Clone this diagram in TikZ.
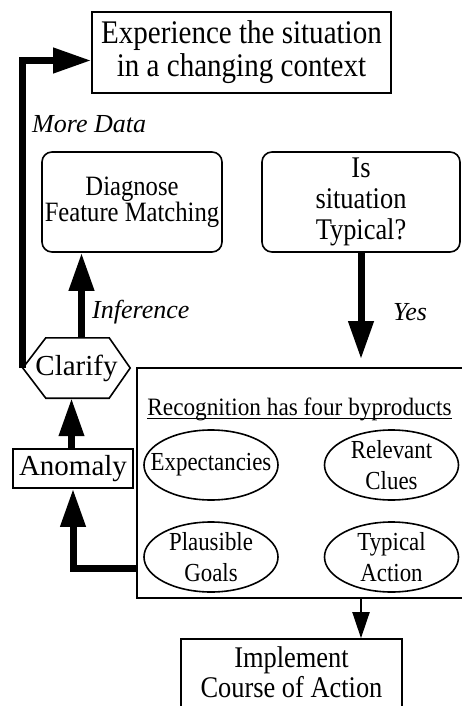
\documentclass[tikz,border=0pt]{standalone}
\usepackage{fontspec}
\setmainfont{Liberation Serif}
\newfontfamily\cnd[FakeStretch=0.88]{Liberation Serif}
\newfontfamily\cndb[FakeStretch=0.93]{Liberation Serif}
\usetikzlibrary{arrows.meta,calc,shapes.geometric}
\begin{document}
\begin{tikzpicture}[x=1pt,y=-1pt,
  box/.style={draw,line width=1.6pt,inner sep=0pt,align=center},
  rbox/.style={box,rounded corners=10pt},
  oval/.style={draw,line width=1.6pt,ellipse,minimum width=134pt,minimum height=70pt,inner sep=0pt},
  otext/.style={inner sep=0pt,align=center,font=\cnd\fontsize{26}{31}\selectfont},
  big/.style={line width=7pt,-{Triangle[length=38pt,width=24pt]}},
  small/.style={line width=2pt,-{Triangle[length=26pt,width=17pt]}},
  lbl/.style={font=\fontsize{26}{26}\selectfont\itshape,inner sep=0pt,anchor=base west},
]
\useasboundingbox (0,0) rectangle (461,706);

% boxes
\node[box,minimum width=299pt,minimum height=81pt,font=\cnd\fontsize{33}{33}\selectfont] (exp) at (241.5,52.5) {Experience the situation\\in a changing context};
\node[rbox,minimum width=180pt,minimum height=100pt,font=\cnd\fontsize{28}{25}\selectfont] (diag) at (132,202) {Diagnose\\Feature Matching};
\node[rbox,minimum width=198pt,minimum height=100pt,font=\cnd\fontsize{30}{31}\selectfont] (typ) at (361,202) {Is\\situation\\Typical?};

\node[draw,line width=1.6pt,minimum width=335pt,minimum height=230pt,inner sep=0pt] (recog) at (304.5,483) {};
\node[font=\cndb\fontsize{25}{25}\selectfont,inner sep=0pt,anchor=base] (rtitle) at (299.5,415) {Recognition has four byproducts};
\draw[line width=1.4pt] ([yshift=-3.5pt]rtitle.base west) -- ([yshift=-3.5pt]rtitle.base east);

\node[oval] (o1) at (211,465) {};
\node[otext] (o1t) at (o1) {Expectancies};
\node[oval] (o2) at (391.5,465) {};
\node[otext] (o2t) at (o2) {Relevant\\Clues};
\node[oval] (o3) at (211,557) {};
\node[otext] (o3t) at (o3) {Plausible\\Goals};
\node[oval] (o4) at (391.5,557) {};
\node[otext] (o4t) at (o4) {Typical\\Action};

% clarify hexagon
\node[font=\fontsize{29}{29}\selectfont,minimum width=107pt,minimum height=60pt,inner sep=0pt] (clar) at (76.5,368) {Clarify};
\draw[line width=1.6pt] (clar.west) -- ([xshift=23pt]clar.north west) -- ([xshift=-21pt]clar.north east) -- (clar.east) -- ([xshift=-21pt]clar.south east) -- ([xshift=23pt]clar.south west) -- cycle;

\node[box,minimum width=120pt,minimum height=39pt,font=\fontsize{29}{29}\selectfont] (anom) at (73,468.5) {Anomaly};

\node[box,minimum width=221pt,minimum height=78pt] (impl) at (291.5,678) {};
\node[inner sep=0pt,align=center,font=\cnd\fontsize{30}{30}\selectfont] (implt) at (291.5,672) {Implement\\Course of Action};

% connectors
\coordinate (expin) at ([yshift=-8pt]exp.west);
\draw[big] (clar.west) |- (expin);
\draw[big] ([xshift=5pt]clar.north) -- ([xshift=5pt]clar.north |- diag.south);
\draw[big] ([xshift=-1.5pt]anom.north) -- ([xshift=-1.5pt]anom.north |- clar.south);
\draw[big] ([yshift=-85pt]recog.west) -| (anom.south);
\draw[big,shorten >=8pt] (typ.south) -- (typ.south |- recog.north);
\draw[small] (recog.south -| typ.south) -- (impl.north -| typ.south);

% labels
\node[lbl] (lmore) at (32,132) {More Data};
\node[lbl] (linf) at (92,318) {Inference};
\node[lbl] (lyes) at (393,320) {Yes};
\end{tikzpicture}
\end{document}
